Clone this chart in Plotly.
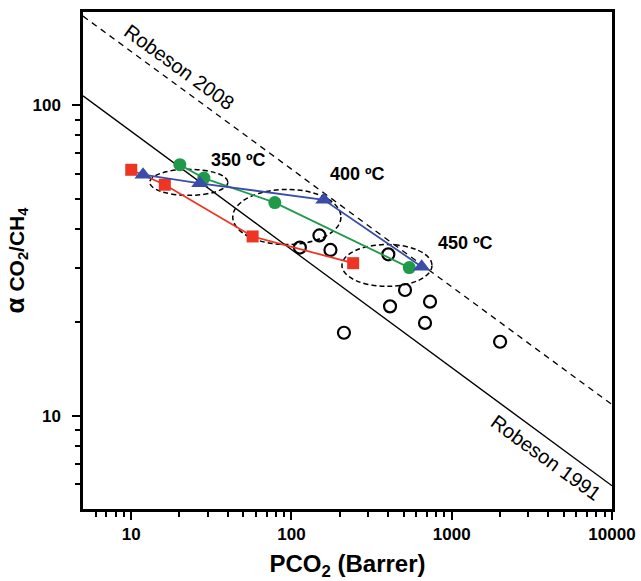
import plotly.graph_objects as go
import math

# ---- data ----
red_x = [10.0, 16.2, 57.2, 242.6]
red_y = [62.0, 55.5, 37.8, 31.0]

blue_x = [11.85, 26.8, 159.2, 649]
blue_y = [59.8, 56.1, 49.6, 30.2]

green_x = [20.1, 28.4, 78.7, 543]
green_y = [64.4, 58.3, 48.6, 30.0]

open_x = [112.8, 149.4, 175, 402, 511, 412, 732, 681, 212.5, 2003]
open_y = [34.8, 38.1, 34.2, 33.1, 25.4, 22.5, 23.3, 19.9, 18.5, 17.3]

rob1991_x = [5, 10000]
rob1991_y = [107.3, 5.94]
rob2008_x = [5, 10000]
rob2008_y = [194, 10.86]

x_major = [10, 100, 1000, 10000]
x_major_text = ["10", "100", "1000", "10000"]
y_major = [10, 100]
y_major_text = ["10", "100"]

temp_labels = ["350 ºC", "400 ºC", "450 ºC"]
temp_label_x = [46.9, 260, 1211]
temp_label_y = [66.5, 60.3, 36.1]

# ellipses (x0, x1, y0, y1) in data units
ellipses = [
    (13.05, 40.1, 51.3, 62.2),
    (43.0, 203.5, 35.6, 53.6),
    (206.5, 753, 26.1, 35.6),
]

RED = "#ee3524"
BLUE = "#3a4da8"
GREEN = "#1f9a48"

fig = go.Figure()

fig.add_trace(go.Scatter(x=rob1991_x, y=rob1991_y, mode="lines",
                         line=dict(color="black", width=1.3), showlegend=False))
fig.add_trace(go.Scatter(x=rob2008_x, y=rob2008_y, mode="lines",
                         line=dict(color="black", width=1.3, dash="6px,5px"), showlegend=False))

fig.add_trace(go.Scatter(x=open_x, y=open_y, mode="markers",
                         marker=dict(symbol="circle-open", size=12, color="black",
                                     line=dict(width=2.2, color="black")),
                         showlegend=False))

fig.add_trace(go.Scatter(x=red_x, y=red_y, mode="lines+markers",
                         line=dict(color=RED, width=1.8),
                         marker=dict(symbol="square", size=12, color=RED), showlegend=False))
fig.add_trace(go.Scatter(x=green_x, y=green_y, mode="lines+markers",
                         line=dict(color=GREEN, width=1.8),
                         marker=dict(symbol="circle", size=13, color=GREEN), showlegend=False))
fig.add_trace(go.Scatter(x=blue_x, y=blue_y, mode="lines+markers",
                         line=dict(color=BLUE, width=1.8),
                         marker=dict(symbol="triangle-up", size=15, color=BLUE), showlegend=False))

for (x0, x1, y0, y1) in ellipses:
    fig.add_shape(type="circle", xref="x", yref="y", x0=x0, x1=x1, y0=y0, y1=y1,
                  line=dict(color="black", width=1.5, dash="5px,3px"), layer="below")

for t, tx, ty in zip(temp_labels, temp_label_x, temp_label_y):
    fig.add_annotation(x=math.log10(tx), y=math.log10(ty), xref="x", yref="y", text=t,
                       showarrow=False,
                       font=dict(size=18, color="black", family="Arial", weight="bold"),
                       xanchor="center", yanchor="middle")

fig.add_annotation(x=math.log10(19.9), y=math.log10(132.6), xref="x", yref="y",
                   text="Robeson 2008", showarrow=False, textangle=36,
                   font=dict(size=20, color="black", family="Arial"))
fig.add_annotation(x=math.log10(3900), y=math.log10(7.32), xref="x", yref="y",
                   text="Robeson 1991", showarrow=False, textangle=36,
                   font=dict(size=20, color="black", family="Arial"))

x_minor = [v * m for m in (1, 10, 100, 1000) for v in (2, 3, 4, 5, 6, 7, 8, 9)
           if 5 < v * m < 10000 and v * m not in x_major]
y_minor = [v * m for m in (1, 10) for v in (2, 3, 4, 5, 6, 7, 8, 9)
           if 5 < v * m < 200]

axis_common = dict(showline=True, linecolor="black", linewidth=2.5, mirror=True,
                   ticks="outside", ticklen=8, tickwidth=2, tickcolor="black",
                   showgrid=False, zeroline=False, automargin=False,
                   tickfont=dict(family="Arial", size=17, color="black", weight="bold"))

fig.update_xaxes(type="log", range=[math.log10(5), math.log10(10000)],
                 tickmode="array", tickvals=x_major, ticktext=x_major_text,
                 minor=dict(tickmode="array", tickvals=x_minor, ticks="outside",
                            ticklen=5, tickwidth=2, tickcolor="black", showgrid=False),
                 title=dict(text="PCO<sub>2</sub> (Barrer)",
                            font=dict(family="Arial", size=24, color="black", weight="bold"),
                            standoff=36),
                 **axis_common)
fig.update_yaxes(type="log", range=[math.log10(5), math.log10(200)],
                 tickmode="array", tickvals=y_major, ticktext=y_major_text,
                 ticklabelstandoff=8,
                 minor=dict(tickmode="array", tickvals=y_minor, ticks="outside",
                            ticklen=5, tickwidth=2, tickcolor="black", showgrid=False),
                 title=dict(text="<span style='font-size:26px'>α</span> CO<sub>2</sub>/CH<sub>4</sub>",
                            font=dict(family="Arial", size=21, color="black", weight="bold"),
                            standoff=6),
                 **axis_common)

fig.update_layout(width=641, height=581, plot_bgcolor="white", paper_bgcolor="white",
                  margin=dict(l=83, r=29, t=12, b=72, autoexpand=False), showlegend=False)

fig.write_html("out.html", config={"displayModeBar": False},
               post_script="document.body.style.margin='0px';document.body.style.overflow='hidden';")
